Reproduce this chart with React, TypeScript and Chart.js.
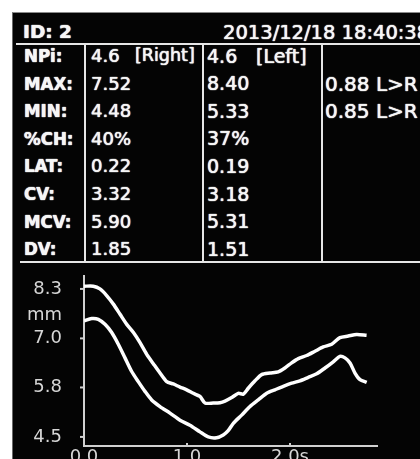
import React, { useEffect, useRef } from "react";
import { Chart, registerables } from "chart.js";

Chart.register(...registerables);

// ---- Data ----
const headerId = "ID: 2";
const headerDate = "2013/12/18 18:40:38";
const rowLabels = ["NPi:", "MAX:", "MIN:", "%CH:", "LAT:", "CV:", "MCV:", "DV:"];
const rightValues = ["4.6", "7.52", "4.48", "40%", "0.22", "3.32", "5.90", "1.85"];
const leftValues = ["4.6", "8.40", "5.33", "37%", "0.19", "3.18", "5.31", "1.51"];
const ratioValues = ["", "0.88 L>R", "0.85 L>R", "", "", "", "", ""];
const rightTag = "[Right]";
const leftTag = "[Left]";

// upper trace (left eye)
const leftTime = [0, 0.09, 0.155, 0.22, 0.285, 0.35, 0.415, 0.48, 0.544, 0.609, 0.673, 0.738, 0.803, 0.867, 0.932, 0.997, 1.061, 1.126, 1.175, 1.255, 1.32, 1.369, 1.434, 1.498, 1.547, 1.595, 1.66, 1.725, 1.806, 1.886, 1.951, 2.016, 2.081, 2.162, 2.243, 2.323, 2.405, 2.485, 2.566, 2.647, 2.744];
const leftDiameter = [8.37, 8.37, 8.3, 8.13, 7.91, 7.65, 7.39, 7.18, 6.92, 6.62, 6.38, 6.14, 5.92, 5.86, 5.78, 5.71, 5.62, 5.54, 5.37, 5.37, 5.38, 5.42, 5.51, 5.62, 5.6, 5.75, 5.94, 6.1, 6.14, 6.17, 6.27, 6.4, 6.51, 6.59, 6.7, 6.81, 6.88, 7.05, 7.09, 7.13, 7.11];

// lower trace (right eye)
const rightTime = [0, 0.075, 0.139, 0.204, 0.269, 0.333, 0.398, 0.463, 0.527, 0.592, 0.657, 0.738, 0.835, 0.932, 1.029, 1.126, 1.207, 1.288, 1.352, 1.4, 1.45, 1.531, 1.612, 1.692, 1.774, 1.854, 1.935, 2.016, 2.097, 2.178, 2.259, 2.34, 2.42, 2.485, 2.534, 2.583, 2.631, 2.68, 2.745];
const rightDiameter = [7.48, 7.54, 7.52, 7.39, 7.18, 6.88, 6.53, 6.18, 5.92, 5.67, 5.45, 5.28, 5.11, 4.93, 4.8, 4.63, 4.5, 4.48, 4.55, 4.66, 4.85, 5.06, 5.28, 5.45, 5.62, 5.71, 5.8, 5.88, 5.94, 6.03, 6.12, 6.27, 6.43, 6.57, 6.53, 6.4, 6.14, 5.97, 5.9];

const xTicks = [0, 1, 2];
const xTickLabels = ["0.0", "1.0", "2.0s"];
const yTicks = [4.5, 5.77, 7.03, 8.3];
const yUnitValue = 7.63;
const yUnitLabel = "mm";
const xMin = 0;
const xMax = 2.845;
const yMin = 4.267;
const yMax = 8.637;

const textGlow = "0 0 1px rgba(255,255,255,0.9), 0 0 1px rgba(255,255,255,0.9)";

function Txt(props: { x: number; y: number; size: number; bold?: boolean; condensed?: boolean; children: React.ReactNode }) {
  return (
    <div
      style={{
        position: "absolute",
        left: props.x,
        top: props.y,
        fontFamily: props.condensed ? "'DejaVu Sans Condensed', 'DejaVu Sans'" : "'DejaVu Sans'",
        fontWeight: props.bold ? 700 : 400,
        fontSize: props.size,
        lineHeight: 1,
        color: "#f6f6f6",
        whiteSpace: "nowrap",
        textShadow: textGlow,
      }}
    >
      {props.children}
    </div>
  );
}

function Line(props: { x: number; y: number; w: number; h: number }) {
  return <div style={{ position: "absolute", left: props.x, top: props.y, width: props.w, height: props.h, background: "#e6e6e6" }} />;
}

export default function App() {
  const canvasRef = useRef<HTMLCanvasElement | null>(null);

  useEffect(() => {
    const canvas = canvasRef.current;
    if (!canvas) return;
    const tickMarks = {
      id: "tickMarks",
      afterDraw(chart: any) {
        const xs = chart.scales.x;
        const ys = chart.scales.y;
        const ctx = chart.ctx;
        const { left, bottom } = chart.chartArea;
        ctx.save();
        ctx.strokeStyle = "#cfcfcf";
        ctx.lineWidth = 2;
        xTicks.slice(1).forEach((v) => {
          const px = xs.getPixelForValue(v);
          ctx.beginPath();
          ctx.moveTo(px, bottom);
          ctx.lineTo(px, bottom - 3);
          ctx.stroke();
        });
        yTicks.forEach((v) => {
          const py = ys.getPixelForValue(v);
          ctx.beginPath();
          ctx.moveTo(left, py);
          ctx.lineTo(left - 4, py);
          ctx.stroke();
        });
        ctx.restore();
      },
    };
    const chart = new Chart(canvas, {
      type: "line",
      data: {
        datasets: [
          {
            label: "Left",
            data: leftTime.map((t, i) => ({ x: t, y: leftDiameter[i] })),
            borderColor: "#ffffff",
            borderWidth: 3.5,
            pointRadius: 0,
            tension: 0.25,
            fill: false,
          },
          {
            label: "Right",
            data: rightTime.map((t, i) => ({ x: t, y: rightDiameter[i] })),
            borderColor: "#ffffff",
            borderWidth: 3.5,
            pointRadius: 0,
            tension: 0.25,
            fill: false,
          },
        ],
      },
      options: {
        animation: false,
        responsive: false,
        maintainAspectRatio: false,
        layout: { padding: { top: 0, right: 43, left: 0, bottom: 0 } },
        plugins: { legend: { display: false }, tooltip: { enabled: false } },
        scales: {
          x: {
            type: "linear",
            min: xMin,
            max: xMax,
            afterBuildTicks: (s: any) => {
              s.ticks = xTicks.map((v) => ({ value: v }));
            },
            afterFit: (s: any) => {
              s.height = 22;
            },
            ticks: {
              callback: (v: any) => {
                const i = xTicks.indexOf(Number(v));
                return i >= 0 ? xTickLabels[i] : "";
              },
              color: "#d6d6d6",
              font: { family: "'DejaVu Sans'", size: 18 },
              padding: 1,
              maxRotation: 0,
              autoSkip: false,
            },
            grid: { display: false, drawTicks: false },
            border: { display: true, color: "#d0d0d0", width: 2 },
          },
          y: {
            type: "linear",
            min: yMin,
            max: yMax,
            afterBuildTicks: (s: any) => {
              s.ticks = [...yTicks, yUnitValue].sort((a, b) => a - b).map((v) => ({ value: v }));
            },
            afterFit: (s: any) => {
              s.width = 72;
            },
            ticks: {
              callback: (v: any) => (Number(v) === yUnitValue ? yUnitLabel : Number(v).toFixed(1)),
              color: "#d6d6d6",
              font: { family: "'DejaVu Sans'", size: 18 },
              padding: 0,
              autoSkip: false,
            },
            grid: {
              display: true,
              drawOnChartArea: false,
              drawTicks: true,
              tickLength: 22,
              tickColor: "rgba(0,0,0,0)",
              color: "rgba(0,0,0,0)",
            },
            border: { display: true, color: "#d0d0d0", width: 2 },
          },
        },
      },
      plugins: [tickMarks],
    } as any);
    return () => chart.destroy();
  }, []);

  const rowTop = (i: number) => 47 + i * 27.6;

  return (
    <div style={{ position: "fixed", left: 0, top: 0, width: 420, height: 459, overflow: "hidden", background: "#ffffff" }}>
      <div
        style={{
          position: "absolute",
          left: 12,
          top: 12,
          width: 420,
          height: 460,
          background: "#040404",
          borderTop: "1px solid #8a8a8a",
          borderLeft: "1px solid #6a6a6a",
        }}
      />
      <Txt x={23} y={23} size={18.5} bold>
        {headerId}
      </Txt>
      <Txt x={223} y={23} size={19.5}>
        {headerDate}
      </Txt>
      <Line x={16} y={42.5} w={410} h={2} />
      <Line x={20} y={260.5} w={410} h={2} />
      <Line x={84} y={44} w={2} h={218} />
      <Line x={202} y={44} w={2} h={218} />
      <Line x={321} y={44} w={2} h={218} />
      {rowLabels.map((l, i) => (
        <Txt key={"l" + i} x={24} y={rowTop(i)} size={18.5} bold condensed>
          {l}
        </Txt>
      ))}
      {rightValues.map((v, i) => (
        <Txt key={"r" + i} x={91} y={rowTop(i)} size={18}>
          {v}
        </Txt>
      ))}
      {leftValues.map((v, i) => (
        <Txt key={"v" + i} x={207} y={rowTop(i) - 0.5} size={19}>
          {v}
        </Txt>
      ))}
      {ratioValues.map((v, i) =>
        v ? (
          <Txt key={"q" + i} x={325} y={rowTop(i) - 1} size={20}>
            {v}
          </Txt>
        ) : null
      )}
      <Txt x={135} y={rowTop(0)} size={17.5}>
        {rightTag}
      </Txt>
      <Txt x={256} y={rowTop(0) - 0.5} size={19}>
        {leftTag}
      </Txt>
      <canvas
        ref={canvasRef}
        width={408}
        height={203}
        style={{ position: "absolute", left: 12, top: 265, width: 408, height: 203 }}
      />
    </div>
  );
}
